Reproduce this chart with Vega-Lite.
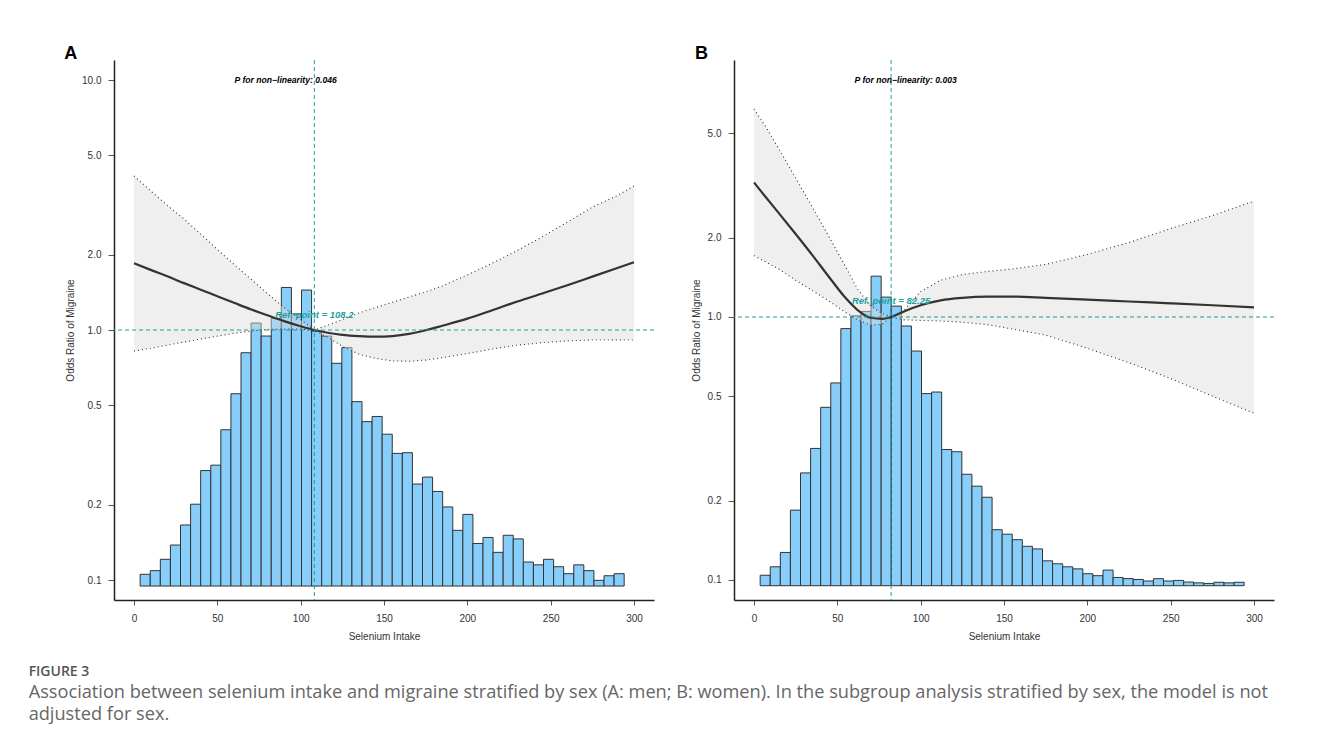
{
  "$schema": "https://vega.github.io/schema/vega-lite/v6.json",
  "background": "white",
  "padding": {"left": 28, "top": 44, "right": 10, "bottom": 10},
  "title": {
    "text": "FIGURE 3",
    "subtitle": ["Association between selenium intake and migraine stratified by sex (A: men; B: women). In the subgroup analysis stratified by sex, the model is not", "adjusted for sex."],
    "orient": "bottom", "anchor": "start", "frame": "bounds", "dx": -35.6, "offset": 24,
    "font": "Open Sans", "fontSize": 14, "fontWeight": 600, "color": "#555555",
    "subtitleFont": "Open Sans", "subtitleFontSize": 18.2, "subtitleColor": "#666666", "subtitleLineHeight": 22, "subtitlePadding": 5
  },
  "datasets": {
    "barsA": [
      {"x0": 3.70, "x1": 9.75, "top": 0.1054}, {"x0": 9.75, "x1": 15.80, "top": 0.109}, {"x0": 15.80, "x1": 21.85, "top": 0.121}, {"x0": 21.85, "x1": 27.90, "top": 0.138},
      {"x0": 27.90, "x1": 33.95, "top": 0.166}, {"x0": 33.95, "x1": 40.00, "top": 0.201}, {"x0": 40.00, "x1": 46.05, "top": 0.274}, {"x0": 46.05, "x1": 52.10, "top": 0.288},
      {"x0": 52.10, "x1": 58.15, "top": 0.399}, {"x0": 58.15, "x1": 64.20, "top": 0.556}, {"x0": 64.20, "x1": 70.25, "top": 0.811}, {"x0": 70.25, "x1": 76.30, "top": 1.066},
      {"x0": 76.30, "x1": 82.35, "top": 0.946}, {"x0": 82.35, "x1": 88.40, "top": 1.114}, {"x0": 88.40, "x1": 94.45, "top": 1.48}, {"x0": 94.45, "x1": 100.50, "top": 1.16},
      {"x0": 100.50, "x1": 106.55, "top": 1.445}, {"x0": 106.55, "x1": 112.60, "top": 0.99}, {"x0": 112.60, "x1": 118.65, "top": 0.946}, {"x0": 118.65, "x1": 124.70, "top": 0.736},
      {"x0": 124.70, "x1": 130.75, "top": 0.85}, {"x0": 130.75, "x1": 136.80, "top": 0.517}, {"x0": 136.80, "x1": 142.85, "top": 0.43}, {"x0": 142.85, "x1": 148.90, "top": 0.451},
      {"x0": 148.90, "x1": 154.95, "top": 0.383}, {"x0": 154.95, "x1": 161.00, "top": 0.321}, {"x0": 161.00, "x1": 167.05, "top": 0.323}, {"x0": 167.05, "x1": 173.10, "top": 0.242},
      {"x0": 173.10, "x1": 179.15, "top": 0.258}, {"x0": 179.15, "x1": 185.20, "top": 0.226}, {"x0": 185.20, "x1": 191.25, "top": 0.196}, {"x0": 191.25, "x1": 197.30, "top": 0.158},
      {"x0": 197.30, "x1": 203.35, "top": 0.183}, {"x0": 203.35, "x1": 209.40, "top": 0.140}, {"x0": 209.40, "x1": 215.45, "top": 0.148}, {"x0": 215.45, "x1": 221.50, "top": 0.129},
      {"x0": 221.50, "x1": 227.55, "top": 0.151}, {"x0": 227.55, "x1": 233.60, "top": 0.146}, {"x0": 233.60, "x1": 239.65, "top": 0.118}, {"x0": 239.65, "x1": 245.70, "top": 0.115},
      {"x0": 245.70, "x1": 251.75, "top": 0.121}, {"x0": 251.75, "x1": 257.80, "top": 0.113}, {"x0": 257.80, "x1": 263.85, "top": 0.106}, {"x0": 263.85, "x1": 269.90, "top": 0.115},
      {"x0": 269.90, "x1": 275.95, "top": 0.109}, {"x0": 275.95, "x1": 282.00, "top": 0.0997}, {"x0": 282.00, "x1": 288.05, "top": 0.104}, {"x0": 288.05, "x1": 294.10, "top": 0.106}
    ],
    "barsB": [
      {"x0": 3.70, "x1": 9.75, "top": 0.104}, {"x0": 9.75, "x1": 15.80, "top": 0.112}, {"x0": 15.80, "x1": 21.85, "top": 0.127}, {"x0": 21.85, "x1": 27.90, "top": 0.184},
      {"x0": 27.90, "x1": 33.95, "top": 0.255}, {"x0": 33.95, "x1": 40.00, "top": 0.316}, {"x0": 40.00, "x1": 46.05, "top": 0.453}, {"x0": 46.05, "x1": 52.10, "top": 0.561},
      {"x0": 52.10, "x1": 58.15, "top": 0.903}, {"x0": 58.15, "x1": 64.20, "top": 1.01}, {"x0": 64.20, "x1": 70.25, "top": 1.05}, {"x0": 70.25, "x1": 76.30, "top": 1.43},
      {"x0": 76.30, "x1": 82.35, "top": 1.19}, {"x0": 82.35, "x1": 88.40, "top": 1.10}, {"x0": 88.40, "x1": 94.45, "top": 0.924}, {"x0": 94.45, "x1": 100.50, "top": 0.742},
      {"x0": 100.50, "x1": 106.55, "top": 0.511}, {"x0": 106.55, "x1": 112.60, "top": 0.518}, {"x0": 112.60, "x1": 118.65, "top": 0.313}, {"x0": 118.65, "x1": 124.70, "top": 0.307},
      {"x0": 124.70, "x1": 130.75, "top": 0.252}, {"x0": 130.75, "x1": 136.80, "top": 0.227}, {"x0": 136.80, "x1": 142.85, "top": 0.206}, {"x0": 142.85, "x1": 148.90, "top": 0.155},
      {"x0": 148.90, "x1": 154.95, "top": 0.149}, {"x0": 154.95, "x1": 161.00, "top": 0.142}, {"x0": 161.00, "x1": 167.05, "top": 0.134}, {"x0": 167.05, "x1": 173.10, "top": 0.131},
      {"x0": 173.10, "x1": 179.15, "top": 0.118}, {"x0": 179.15, "x1": 185.20, "top": 0.115}, {"x0": 185.20, "x1": 191.25, "top": 0.112}, {"x0": 191.25, "x1": 197.30, "top": 0.110},
      {"x0": 197.30, "x1": 203.35, "top": 0.1054}, {"x0": 203.35, "x1": 209.40, "top": 0.1036}, {"x0": 209.40, "x1": 215.45, "top": 0.1088}, {"x0": 215.45, "x1": 221.50, "top": 0.102},
      {"x0": 221.50, "x1": 227.55, "top": 0.101}, {"x0": 227.55, "x1": 233.60, "top": 0.1002}, {"x0": 233.60, "x1": 239.65, "top": 0.0989}, {"x0": 239.65, "x1": 245.70, "top": 0.1009},
      {"x0": 245.70, "x1": 251.75, "top": 0.0989}, {"x0": 251.75, "x1": 257.80, "top": 0.0994}, {"x0": 257.80, "x1": 263.85, "top": 0.098}, {"x0": 263.85, "x1": 269.90, "top": 0.0973},
      {"x0": 269.90, "x1": 275.95, "top": 0.0968}, {"x0": 275.95, "x1": 282.00, "top": 0.0978}, {"x0": 282.00, "x1": 288.05, "top": 0.0973}, {"x0": 288.05, "x1": 294.10, "top": 0.0978}
    ],
    "curveA": [
      {"u": 0, "est": 1.85, "lo": 0.824, "hi": 4.13},
      {"u": 10, "est": 1.74, "lo": 0.845, "hi": 3.6},
      {"u": 20, "est": 1.64, "lo": 0.87, "hi": 3.15},
      {"u": 30, "est": 1.54, "lo": 0.895, "hi": 2.78},
      {"u": 40, "est": 1.45, "lo": 0.92, "hi": 2.42},
      {"u": 50, "est": 1.365, "lo": 0.945, "hi": 2.1},
      {"u": 60, "est": 1.285, "lo": 0.97, "hi": 1.83},
      {"u": 70, "est": 1.21, "lo": 0.99, "hi": 1.6},
      {"u": 80, "est": 1.145, "lo": 1.005, "hi": 1.4},
      {"u": 90, "est": 1.085, "lo": 1.01, "hi": 1.23},
      {"u": 100, "est": 1.035, "lo": 1.008, "hi": 1.1},
      {"u": 108.2, "est": 1.0, "lo": 1.0, "hi": 1.0},
      {"u": 117, "est": 0.973, "lo": 0.93, "hi": 1.05},
      {"u": 125, "est": 0.956, "lo": 0.86, "hi": 1.1},
      {"u": 135, "est": 0.945, "lo": 0.8, "hi": 1.17},
      {"u": 145, "est": 0.94, "lo": 0.77, "hi": 1.23},
      {"u": 155, "est": 0.946, "lo": 0.752, "hi": 1.29},
      {"u": 165, "est": 0.965, "lo": 0.75, "hi": 1.355},
      {"u": 175, "est": 0.998, "lo": 0.758, "hi": 1.42},
      {"u": 185, "est": 1.04, "lo": 0.775, "hi": 1.5},
      {"u": 200, "est": 1.11, "lo": 0.805, "hi": 1.66},
      {"u": 215, "est": 1.2, "lo": 0.84, "hi": 1.85},
      {"u": 230, "est": 1.3, "lo": 0.87, "hi": 2.08},
      {"u": 245, "est": 1.4, "lo": 0.89, "hi": 2.36},
      {"u": 260, "est": 1.51, "lo": 0.905, "hi": 2.7},
      {"u": 275, "est": 1.635, "lo": 0.912, "hi": 3.1},
      {"u": 290, "est": 1.77, "lo": 0.913, "hi": 3.45},
      {"u": 300, "est": 1.866, "lo": 0.912, "hi": 3.77}
    ],
    "curveB": [
      {"u": 0, "est": 3.25, "lo": 1.712, "hi": 6.19},
      {"u": 7, "est": 2.86, "lo": 1.62, "hi": 5.3},
      {"u": 15, "est": 2.48, "lo": 1.52, "hi": 4.35},
      {"u": 25, "est": 2.07, "lo": 1.38, "hi": 3.38},
      {"u": 35, "est": 1.72, "lo": 1.26, "hi": 2.62},
      {"u": 45, "est": 1.42, "lo": 1.15, "hi": 2.02},
      {"u": 55, "est": 1.18, "lo": 1.04, "hi": 1.55},
      {"u": 62, "est": 1.065, "lo": 0.975, "hi": 1.28},
      {"u": 70, "est": 0.993, "lo": 0.93, "hi": 1.1},
      {"u": 77, "est": 0.984, "lo": 0.94, "hi": 1.03},
      {"u": 82.25, "est": 1.0, "lo": 1.0, "hi": 1.0},
      {"u": 90, "est": 1.05, "lo": 0.975, "hi": 1.06},
      {"u": 100, "est": 1.108, "lo": 0.97, "hi": 1.25},
      {"u": 112, "est": 1.157, "lo": 0.965, "hi": 1.38},
      {"u": 125, "est": 1.183, "lo": 0.955, "hi": 1.45},
      {"u": 140, "est": 1.195, "lo": 0.935, "hi": 1.49},
      {"u": 155, "est": 1.195, "lo": 0.9, "hi": 1.523},
      {"u": 175, "est": 1.183, "lo": 0.853, "hi": 1.585},
      {"u": 200, "est": 1.165, "lo": 0.76, "hi": 1.73},
      {"u": 225, "est": 1.145, "lo": 0.67, "hi": 1.92},
      {"u": 250, "est": 1.127, "lo": 0.583, "hi": 2.17},
      {"u": 275, "est": 1.108, "lo": 0.5, "hi": 2.43},
      {"u": 300, "est": 1.088, "lo": 0.43, "hi": 2.76}
    ]
  },
  "hconcat": [
    {
      "width": 540, "height": 540,
      "title": {"text": "A", "anchor": "start", "frame": "bounds", "font": "Liberation Sans", "fontSize": 18, "fontWeight": "bold", "color": "#000000", "offset": -3, "dx": -1.3},
      "layer": [
        {"data": {"name": "barsA"}, "mark": {"type": "rect", "fill": "#87CEFA", "stroke": "#333333", "strokeWidth": 1},
         "encoding": {
           "x": {"field": "x0", "type": "quantitative", "scale": {"domain": [-12, 312], "nice": false, "zero": false}, "axis": {"values": [0, 50, 100, 150, 200, 250, 300], "format": "d"}, "title": "Selenium Intake"},
           "x2": {"field": "x1"},
           "y": {"field": "top", "type": "quantitative", "scale": {"type": "log", "domain": [0.08318, 12.023], "nice": false}, "axis": {"values": [0.1, 0.2, 0.5, 1, 2, 5, 10], "format": ".1f"}, "title": "Odds Ratio of Migraine"},
           "y2": {"datum": 0.0946}
         }},
        {"data": {"name": "curveA"}, "mark": {"type": "area", "color": "#dcdcdc", "opacity": 0.45},
         "encoding": {
           "x": {"field": "u", "type": "quantitative", "scale": {"domain": [-12, 312], "nice": false, "zero": false}, "title": "Selenium Intake"},
           "y": {"field": "lo", "type": "quantitative", "scale": {"type": "log", "domain": [0.08318, 12.023], "nice": false}, "title": "Odds Ratio of Migraine"},
           "y2": {"field": "hi"}
         }},
        {"data": {"name": "curveA"}, "mark": {"type": "line", "color": "#333333", "strokeWidth": 1.1, "strokeDash": [1, 3]},
         "encoding": {
           "x": {"field": "u", "type": "quantitative", "scale": {"domain": [-12, 312], "nice": false, "zero": false}, "title": "Selenium Intake"},
           "y": {"field": "hi", "type": "quantitative", "scale": {"type": "log", "domain": [0.08318, 12.023], "nice": false}, "title": "Odds Ratio of Migraine"}
         }},
        {"data": {"name": "curveA"}, "mark": {"type": "line", "color": "#333333", "strokeWidth": 1.1, "strokeDash": [1, 3]},
         "encoding": {
           "x": {"field": "u", "type": "quantitative", "scale": {"domain": [-12, 312], "nice": false, "zero": false}, "title": "Selenium Intake"},
           "y": {"field": "lo", "type": "quantitative", "scale": {"type": "log", "domain": [0.08318, 12.023], "nice": false}, "title": "Odds Ratio of Migraine"}
         }},
        {"data": {"name": "curveA"}, "mark": {"type": "line", "color": "#333333", "strokeWidth": 2.2, "interpolate": "monotone"},
         "encoding": {
           "x": {"field": "u", "type": "quantitative", "scale": {"domain": [-12, 312], "nice": false, "zero": false}, "title": "Selenium Intake"},
           "y": {"field": "est", "type": "quantitative", "scale": {"type": "log", "domain": [0.08318, 12.023], "nice": false}, "title": "Odds Ratio of Migraine"}
         }},
        {"data": {"values": [{"ref": 108.2}]}, "mark": {"type": "rule", "color": "#1f9e9e", "strokeWidth": 1, "strokeDash": [4, 3]},
         "encoding": {
           "x": {"field": "ref", "type": "quantitative", "scale": {"domain": [-12, 312], "nice": false, "zero": false}, "title": "Selenium Intake"}
         }},
        {"data": {"values": [{"one": 1}]}, "mark": {"type": "rule", "color": "#1f9e9e", "strokeWidth": 1, "strokeDash": [4, 3]},
         "encoding": {
           "y": {"field": "one", "type": "quantitative", "scale": {"type": "log", "domain": [0.08318, 12.023], "nice": false}, "title": "Odds Ratio of Migraine"}
         }},
        {"data": {"values": [{"x": 91, "y": 10, "label": "P for non−linearity: 0.046"}]}, "mark": {"type": "text", "font": "Liberation Sans", "fontSize": 8.6, "fontStyle": "italic", "fontWeight": "bold", "color": "#000000"},
         "encoding": {
           "x": {"field": "x", "type": "quantitative", "scale": {"domain": [-12, 312], "nice": false, "zero": false}, "title": "Selenium Intake"},
           "y": {"field": "y", "type": "quantitative", "scale": {"type": "log", "domain": [0.08318, 12.023], "nice": false}, "title": "Odds Ratio of Migraine"},
           "text": {"field": "label"}
         }},
        {"data": {"values": [{"x": 108.2, "y": 1.15, "label": "Ref. point = 108.2"}]}, "mark": {"type": "text", "font": "Liberation Sans", "fontSize": 9.5, "fontStyle": "italic", "fontWeight": "bold", "color": "#1f9e9e"},
         "encoding": {
           "x": {"field": "x", "type": "quantitative", "scale": {"domain": [-12, 312], "nice": false, "zero": false}, "title": "Selenium Intake"},
           "y": {"field": "y", "type": "quantitative", "scale": {"type": "log", "domain": [0.08318, 12.023], "nice": false}, "title": "Odds Ratio of Migraine"},
           "text": {"field": "label"}
         }}
      ]
    },
    {
      "width": 540, "height": 540,
      "title": {"text": "B", "anchor": "start", "frame": "bounds", "font": "Liberation Sans", "fontSize": 18, "fontWeight": "bold", "color": "#000000", "offset": -3, "dx": 3.9},
      "layer": [
        {"data": {"name": "barsB"}, "mark": {"type": "rect", "fill": "#87CEFA", "stroke": "#333333", "strokeWidth": 1},
         "encoding": {
           "x": {"field": "x0", "type": "quantitative", "scale": {"domain": [-12, 312], "nice": false, "zero": false}, "axis": {"values": [0, 50, 100, 150, 200, 250, 300], "format": "d"}, "title": "Selenium Intake"},
           "x2": {"field": "x1"},
           "y": {"field": "top", "type": "quantitative", "scale": {"type": "log", "domain": [0.08372, 9.506], "nice": false}, "axis": {"values": [0.1, 0.2, 0.5, 1, 2, 5], "format": ".1f"}, "title": "Odds Ratio of Migraine"},
           "y2": {"datum": 0.0949}
         }},
        {"data": {"name": "curveB"}, "mark": {"type": "area", "color": "#dcdcdc", "opacity": 0.45},
         "encoding": {
           "x": {"field": "u", "type": "quantitative", "scale": {"domain": [-12, 312], "nice": false, "zero": false}, "title": "Selenium Intake"},
           "y": {"field": "lo", "type": "quantitative", "scale": {"type": "log", "domain": [0.08372, 9.506], "nice": false}, "title": "Odds Ratio of Migraine"},
           "y2": {"field": "hi"}
         }},
        {"data": {"name": "curveB"}, "mark": {"type": "line", "color": "#333333", "strokeWidth": 1.1, "strokeDash": [1, 3]},
         "encoding": {
           "x": {"field": "u", "type": "quantitative", "scale": {"domain": [-12, 312], "nice": false, "zero": false}, "title": "Selenium Intake"},
           "y": {"field": "hi", "type": "quantitative", "scale": {"type": "log", "domain": [0.08372, 9.506], "nice": false}, "title": "Odds Ratio of Migraine"}
         }},
        {"data": {"name": "curveB"}, "mark": {"type": "line", "color": "#333333", "strokeWidth": 1.1, "strokeDash": [1, 3]},
         "encoding": {
           "x": {"field": "u", "type": "quantitative", "scale": {"domain": [-12, 312], "nice": false, "zero": false}, "title": "Selenium Intake"},
           "y": {"field": "lo", "type": "quantitative", "scale": {"type": "log", "domain": [0.08372, 9.506], "nice": false}, "title": "Odds Ratio of Migraine"}
         }},
        {"data": {"name": "curveB"}, "mark": {"type": "line", "color": "#333333", "strokeWidth": 2.2, "interpolate": "monotone"},
         "encoding": {
           "x": {"field": "u", "type": "quantitative", "scale": {"domain": [-12, 312], "nice": false, "zero": false}, "title": "Selenium Intake"},
           "y": {"field": "est", "type": "quantitative", "scale": {"type": "log", "domain": [0.08372, 9.506], "nice": false}, "title": "Odds Ratio of Migraine"}
         }},
        {"data": {"values": [{"ref": 82.25}]}, "mark": {"type": "rule", "color": "#1f9e9e", "strokeWidth": 1, "strokeDash": [4, 3]},
         "encoding": {
           "x": {"field": "ref", "type": "quantitative", "scale": {"domain": [-12, 312], "nice": false, "zero": false}, "title": "Selenium Intake"}
         }},
        {"data": {"values": [{"one": 1}]}, "mark": {"type": "rule", "color": "#1f9e9e", "strokeWidth": 1, "strokeDash": [4, 3]},
         "encoding": {
           "y": {"field": "one", "type": "quantitative", "scale": {"type": "log", "domain": [0.08372, 9.506], "nice": false}, "title": "Odds Ratio of Migraine"}
         }},
        {"data": {"values": [{"x": 91, "y": 8, "label": "P for non−linearity: 0.003"}]}, "mark": {"type": "text", "font": "Liberation Sans", "fontSize": 8.6, "fontStyle": "italic", "fontWeight": "bold", "color": "#000000"},
         "encoding": {
           "x": {"field": "x", "type": "quantitative", "scale": {"domain": [-12, 312], "nice": false, "zero": false}, "title": "Selenium Intake"},
           "y": {"field": "y", "type": "quantitative", "scale": {"type": "log", "domain": [0.08372, 9.506], "nice": false}, "title": "Odds Ratio of Migraine"},
           "text": {"field": "label"}
         }},
        {"data": {"values": [{"x": 82.25, "y": 1.15, "label": "Ref. point = 82.25"}]}, "mark": {"type": "text", "font": "Liberation Sans", "fontSize": 9.5, "fontStyle": "italic", "fontWeight": "bold", "color": "#1f9e9e"},
         "encoding": {
           "x": {"field": "x", "type": "quantitative", "scale": {"domain": [-12, 312], "nice": false, "zero": false}, "title": "Selenium Intake"},
           "y": {"field": "y", "type": "quantitative", "scale": {"type": "log", "domain": [0.08372, 9.506], "nice": false}, "title": "Odds Ratio of Migraine"},
           "text": {"field": "label"}
         }}
      ]
    }
  ],
  "spacing": 80,
  "bounds": "flush",
  "config": {
    "view": {"stroke": null},
    "font": "Liberation Sans",
    "axis": {"grid": false, "domainColor": "#222222", "domainWidth": 1.5, "tickColor": "#555555", "tickWidth": 1, "labelColor": "#333333", "titleColor": "#333333", "labelFontSize": 10, "titleFontSize": 10, "titleFontWeight": "normal", "labelFont": "Liberation Sans", "titleFont": "Liberation Sans", "labelFlush": false, "labelOverlap": false},
    "axisX": {"tickSize": 5, "labelPadding": 8, "titlePadding": 8},
    "axisY": {"tickSize": 6, "labelPadding": 7, "titlePadding": 6}
  }
}
